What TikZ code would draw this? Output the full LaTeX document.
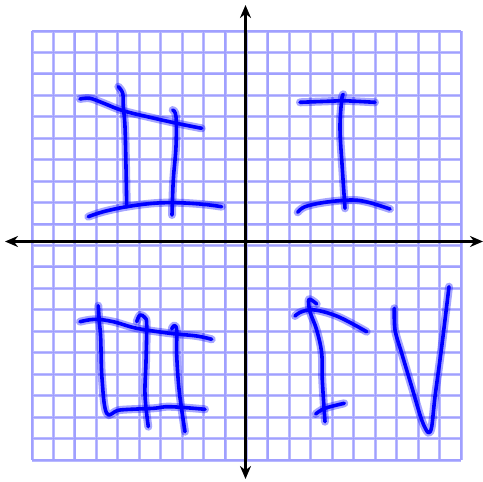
\documentclass[tikz,border=0pt]{standalone}
\usetikzlibrary{arrows.meta}
\definecolor{gridlight}{RGB}{185,185,255}
\definecolor{gridcore}{RGB}{160,160,255}
\definecolor{penblue}{RGB}{0,0,255}
\tikzset{
  gridline/.style={draw=gridlight, line width=3pt, preaction={}},
  gridinner/.style={draw=gridcore, line width=1.2pt},
  pen/.style={draw=penblue, line width=3.6pt, line cap=round, line join=round,
    preaction={draw=penblue, draw opacity=0.35, line width=8pt, line cap=round, line join=round}},
  axis/.style={draw=black, line width=3.6pt, {Stealth[length=13pt,width=11pt]}-{Stealth[length=13pt,width=11pt]}}
}
\begin{document}
\begin{tikzpicture}[x=1pt,y=-1pt]
\useasboundingbox (0,0) rectangle (483,482);
% grid
\foreach \i in {0,...,20}{
  \pgfmathsetmacro{\gx}{32+\i*21.45}
  \pgfmathsetmacro{\gy}{31+\i*21.45}
  \draw[gridline] (\gx,31) -- (\gx,460);
  \draw[gridline] (32,\gy) -- (461,\gy);
}
\foreach \i in {0,...,20}{
  \pgfmathsetmacro{\gx}{32+\i*21.45}
  \pgfmathsetmacro{\gy}{31+\i*21.45}
  \draw[gridinner] (\gx,31) -- (\gx,460);
  \draw[gridinner] (32,\gy) -- (461,\gy);
}
% axes
\coordinate (ytop) at (245.5,5);
\coordinate (ybot) at (245.5,479);
\coordinate (xl) at (5,241.5);
\coordinate (xr) at (483,241.5);
\draw[axis] (ybot) -- (ytop);
\draw[axis] (xl) -- (xr);
% II
\draw[pen] plot[smooth, tension=0.6] coordinates {(80,99) (90,98.3) (103,103) (123,110.7) (153,118) (180,124) (201.7,128.3)};
\draw[pen] plot[smooth, tension=0.6] coordinates {(118.3,86.7) (122.7,93.3) (123.3,106.7) (125,126.7) (126,166.7) (126.7,205)};
\draw[pen] plot[smooth, tension=0.6] coordinates {(172.7,110) (176,116.7) (176,146.7) (173.3,180) (172,215)};
\draw[pen] plot[smooth, tension=0.6] coordinates {(88.3,216.7) (103.3,211.7) (126.7,206.7) (153.3,203.3) (176.7,202.7) (203.3,204.3) (221.7,206.7)};
% I
\draw[pen] plot[smooth, tension=0.6] coordinates {(300,102.3) (335,101) (343.3,100.7) (375,102.3)};
\draw[pen] plot[smooth, tension=0.6] coordinates {(343.3,94.3) (341.7,100) (340,128.3) (342.3,168.3) (345,208.3)};
\draw[pen] plot[smooth, tension=0.6] coordinates {(297.7,212.3) (305,206.7) (325,202.3) (351.7,200) (368.3,202.3) (390,209)};
% III
\draw[pen] plot[smooth, tension=0.6] coordinates {(80,321.7) (95,319.3) (113.3,321.7) (136.7,328.3) (170,333.3) (196.7,336) (211.7,339.3)};
\draw[pen] plot[smooth, tension=0.6] coordinates {(98.3,305.7) (99.3,321.7) (100.7,338.3) (102,378.3) (106.7,413.3) (120,410) (153.3,408.3) (170,406.7) (205,409.3)};
\draw[pen] plot[smooth, tension=0.6] coordinates {(136.7,321.7) (140,315) (145,317.7) (146.7,325) (146,361.7) (145,395) (148.3,426.7)};
\draw[pen] plot[smooth, tension=0.6] coordinates {(171.7,329) (174,325.7) (176.7,330) (176.7,355) (179.3,391.7) (185,431.7)};
% IV
\draw[pen] plot[smooth, tension=0.6] coordinates {(295,316) (301.7,311.7) (315,310) (338.3,316.7) (366.7,331.7)};
\draw[pen] plot[smooth, tension=0.6] coordinates {(316.7,304) (309,299.3) (310,311.7) (316.7,330) (321.7,353.3) (322.3,380) (325,421.7)};
\draw[pen] plot[smooth, tension=0.6] coordinates {(315.7,414) (325,408.3) (344.3,403.3)};
\draw[pen] plot[smooth, tension=0.5] coordinates {(394.3,308.3) (395,330) (401.7,353.3) (411.7,386.7) (421.7,420) (428.3,432.7) (431.7,426.7) (435,396.7) (441.7,346.7) (449,286.7)};
\end{tikzpicture}
\end{document}
